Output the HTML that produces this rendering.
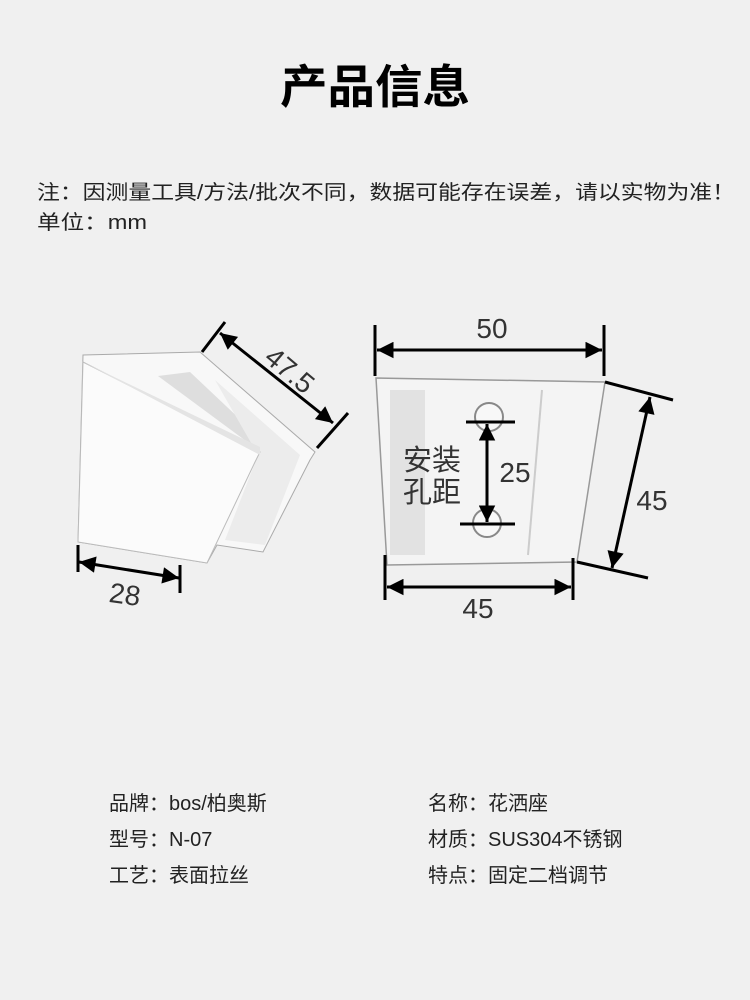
<!DOCTYPE html>
<html><head><meta charset="utf-8"><style>
html,body{margin:0;padding:0;background:#f0f0f0;}
svg{display:block;}
text{font-family:"Liberation Sans","Noto Sans CJK SC",sans-serif;}
</style></head><body>
<svg width="750" height="1000" viewBox="0 0 750 1000" xmlns="http://www.w3.org/2000/svg">
<rect width="750" height="1000" fill="#f0f0f0"/>
<defs>
<marker id="a" viewBox="0 0 10 10" refX="10" refY="5" markerWidth="7.5" markerHeight="5.5" orient="auto-start-reverse" markerUnits="strokeWidth"><path d="M0,0L10,5L0,10z" fill="#000"/></marker>
</defs>
<text x="375" y="103" text-anchor="middle" font-size="46" font-weight="bold" textLength="190" lengthAdjust="spacingAndGlyphs" fill="#000">产品信息</text>
<text x="37" y="199" font-size="20" fill="#222" textLength="698" lengthAdjust="spacingAndGlyphs">注：因测量工具/方法/批次不同，数据可能存在误差，请以实物为准！</text>
<text x="37" y="229" font-size="20" fill="#222" textLength="110" lengthAdjust="spacingAndGlyphs">单位：mm</text>

<!-- left product -->
<polygon points="83,355 200,352 315,452 310,460 263,552 217,545 207,563 78,542" fill="#f8f8f8" stroke="#aaa" stroke-width="1"/>
<polygon points="158,376 190,372 262,440 250,444" fill="#dedede"/>
<polygon points="215,380 300,455 265,545 225,540 258,455" fill="#ececec"/>
<polygon points="83,362 260,452 255,462 207,563 78,542" fill="#fbfbfb" stroke="#bbb" stroke-width="1"/>
<polygon points="83,362 260,447 260,455" fill="#e4e4e4"/>
<line x1="225" y1="322" x2="202" y2="352" stroke="#000" stroke-width="3"/>
<line x1="348" y1="413" x2="317" y2="448" stroke="#000" stroke-width="3"/>
<line x1="220" y1="333" x2="333" y2="423" stroke="#000" stroke-width="3" marker-start="url(#a)" marker-end="url(#a)"/>
<text x="290" y="380" font-size="28" fill="#333" text-anchor="middle" transform="rotate(40 290 370)">47.5</text>
<line x1="78" y1="545" x2="78" y2="572" stroke="#000" stroke-width="3"/>
<line x1="180" y1="565" x2="180" y2="593" stroke="#000" stroke-width="3"/>
<line x1="79" y1="562" x2="179" y2="578" stroke="#000" stroke-width="3" marker-start="url(#a)" marker-end="url(#a)"/>
<text x="125" y="604" font-size="28" fill="#333" text-anchor="middle" transform="rotate(8 125 594)">28</text>

<!-- right product -->
<polygon points="376,378 605,382 577,562 387,565" fill="#f4f4f4" stroke="#999" stroke-width="1.5"/>
<rect x="390" y="390" width="35" height="165" fill="#e2e2e2"/>
<line x1="542" y1="390" x2="528" y2="555" stroke="#ccc" stroke-width="2"/>
<circle cx="489" cy="417" r="14" fill="#f8f8f8" stroke="#888" stroke-width="2"/>
<circle cx="487" cy="523" r="14" fill="#f8f8f8" stroke="#888" stroke-width="2"/>
<line x1="375" y1="325" x2="375" y2="376" stroke="#000" stroke-width="3"/>
<line x1="604" y1="325" x2="604" y2="376" stroke="#000" stroke-width="3"/>
<line x1="377" y1="350" x2="602" y2="350" stroke="#000" stroke-width="3" marker-start="url(#a)" marker-end="url(#a)"/>
<text x="492" y="338" font-size="28" fill="#333" text-anchor="middle">50</text>
<line x1="385" y1="555" x2="385" y2="600" stroke="#000" stroke-width="3"/>
<line x1="573" y1="558" x2="573" y2="600" stroke="#000" stroke-width="3"/>
<line x1="387" y1="587" x2="571" y2="587" stroke="#000" stroke-width="3" marker-start="url(#a)" marker-end="url(#a)"/>
<text x="478" y="618" font-size="28" fill="#333" text-anchor="middle">45</text>
<line x1="605" y1="382" x2="673" y2="400" stroke="#000" stroke-width="3"/>
<line x1="577" y1="562" x2="648" y2="578" stroke="#000" stroke-width="3"/>
<line x1="650" y1="397" x2="612" y2="568" stroke="#000" stroke-width="3" marker-start="url(#a)" marker-end="url(#a)"/>
<text x="652" y="510" font-size="28" fill="#333" text-anchor="middle">45</text>
<line x1="466" y1="422" x2="515" y2="422" stroke="#000" stroke-width="3"/>
<line x1="460" y1="524" x2="515" y2="524" stroke="#000" stroke-width="3"/>
<line x1="487" y1="424" x2="487" y2="522" stroke="#000" stroke-width="3" marker-start="url(#a)" marker-end="url(#a)"/>
<text x="515" y="482" font-size="28" fill="#333" text-anchor="middle">25</text>
<text x="432" y="470" font-size="29" fill="#333" text-anchor="middle">安装</text>
<text x="432" y="502" font-size="29" fill="#333" text-anchor="middle">孔距</text>

<g font-size="20" fill="#222">
<text x="109" y="810">品牌：bos/柏奥斯</text>
<text x="109" y="846">型号：N-07</text>
<text x="109" y="882">工艺：表面拉丝</text>
<text x="428" y="810">名称：花洒座</text>
<text x="428" y="846">材质：SUS304不锈钢</text>
<text x="428" y="882">特点：固定二档调节</text>
</g>
</svg>
</body></html>
